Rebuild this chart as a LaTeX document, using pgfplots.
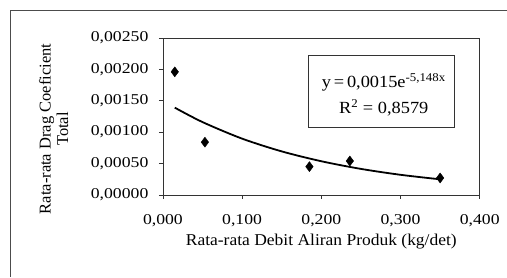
\documentclass[border=0pt]{standalone}
\usepackage{fontspec}
\setmainfont{Liberation Serif}
\newfontfamily\widefont[FakeStretch=1.18]{Liberation Serif}
\newfontfamily\midfont[FakeStretch=1.06]{Liberation Serif}
\newfontfamily\eqfont[FakeStretch=1.08]{Liberation Serif}
\usepackage{pgfplots}
\pgfplotsset{compat=1.18}
\begin{document}
\begin{tikzpicture}
\path (0pt,0pt) rectangle (507pt,277pt);
\draw[black!70, line width=0.6pt] (10pt,0pt) -- (10pt,267pt) -- (507pt,267pt);
\begin{axis}[
  at={(163pt,82pt)}, anchor=south west,
  scale only axis, width=317pt, height=157pt,
  xmin=0, xmax=0.4, ymin=0, ymax=0.0025,
  xtick={0,0.1,0.2,0.3,0.4},
  ytick={0,0.0005,0.001,0.0015,0.002,0.0025},
  scaled x ticks=false, scaled y ticks=false,
  tick align=outside, xtick pos=left, ytick pos=left,
  major tick length=4pt,
  axis line style={black!80, line width=0.6pt},
  tick style={black!80, line width=0.6pt},
  /pgf/number format/assume math mode=true,
  xticklabel style={/pgf/number format/fixed, /pgf/number format/fixed zerofill, /pgf/number format/precision=3, /pgf/number format/use comma, /pgf/number format/1000 sep={}, yshift=-12pt},
  yticklabel style={/pgf/number format/fixed, /pgf/number format/fixed zerofill, /pgf/number format/precision=5, /pgf/number format/use comma, /pgf/number format/1000 sep={}, xshift=-7pt},
  ticklabel style={font=\widefont\fontsize{15}{16}\selectfont},
  xlabel={Rata-rata Debit Aliran Produk (kg/det)},
  xlabel style={font=\midfont\fontsize{16.5}{18}\selectfont, at={(axis description cs:0.5,-0.30)}, anchor=center},
  ylabel={Rata-rata Drag Coeficient\\Total},
  ylabel style={font=\fontsize{16.5}{17.5}\selectfont, align=center, at={(axis description cs:-0.345,0.42)}, anchor=center},
  clip=false,
]
\addplot[black, line width=1.8pt, smooth] coordinates {
  (0.015,0.00139) (0.05,0.00116) (0.1,0.000896) (0.15,0.000693)
  (0.2,0.000536) (0.25,0.000414) (0.3,0.000320) (0.35,0.000248)
};
\addplot[only marks, mark=diamond*, mark size=5pt, black] coordinates {
  (0.015,0.00196) (0.053,0.00084) (0.185,0.00045) (0.236,0.00054) (0.350,0.00027)
};
\end{axis}
\node[draw=black!80, line width=0.6pt, minimum width=147pt, minimum height=72pt, inner sep=0pt] at (381.5pt,186pt) {};
\node[align=center, font=\eqfont\fontsize{17}{26}\selectfont] at (384pt,182pt) {y\,=\,0,0015e\textsuperscript{-5,148x}\\R\textsuperscript{2} = 0,8579};
\end{tikzpicture}
\end{document}
